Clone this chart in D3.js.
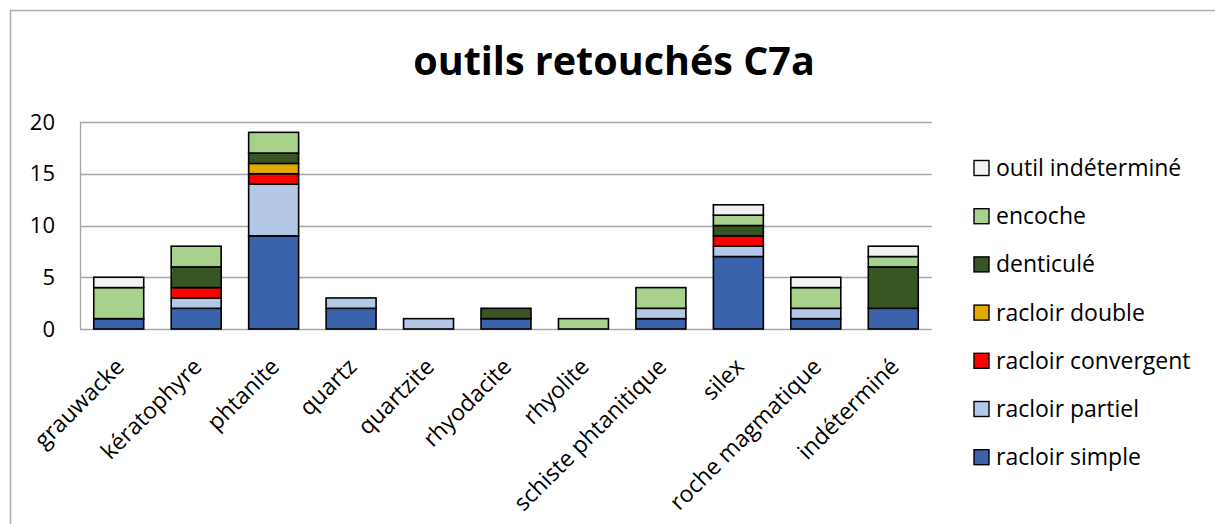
<!DOCTYPE html>
<html>
<head>
<meta charset="utf-8">
<script src="https://cdn.jsdelivr.net/npm/d3@7"></script>
<style>
  html, body { margin: 0; padding: 0; background: #fff; }
  svg { display: block; font-family: "Open Sans", "Noto Sans", sans-serif; }
</style>
</head>
<body>
<svg id="chart" width="1215" height="524"></svg>
<script>
// Rock types (x axis)
const categories = ["grauwacke", "kératophyre", "phtanite", "quartz", "quartzite", "rhyodacite",
  "rhyolite", "schiste phtanitique", "silex", "roche magmatique", "indéterminé"];

// Tool types, stacked bottom to top
const seriesNames = ["racloir simple", "racloir partiel", "racloir convergent", "racloir double",
  "denticulé", "encoche", "outil indéterminé"];

// Counts per rock type for each tool type
const racloirSimple     = [1, 2, 9, 2, 0, 1, 0, 1, 7, 1, 2];
const racloirPartiel    = [0, 1, 5, 1, 1, 0, 0, 1, 1, 1, 0];
const racloirConvergent = [0, 1, 1, 0, 0, 0, 0, 0, 1, 0, 0];
const racloirDouble     = [0, 0, 1, 0, 0, 0, 0, 0, 0, 0, 0];
const denticule         = [0, 2, 1, 0, 0, 1, 0, 0, 1, 0, 4];
const encoche           = [3, 2, 2, 0, 0, 0, 1, 2, 1, 2, 1];
const outilIndetermine  = [1, 0, 0, 0, 0, 0, 0, 0, 1, 1, 1];

const yTicks = [0, 5, 10, 15, 20];

const seriesValues = [racloirSimple, racloirPartiel, racloirConvergent, racloirDouble,
  denticule, encoche, outilIndetermine];
const colors = ["#3A63AC", "#B4C7E7", "#FF0000", "#E2AA00", "#375623", "#A9D18E", "#F2F2F2"];

const rows = categories.map((c, i) => {
  const r = { cat: c };
  seriesNames.forEach((s, j) => { r[s] = seriesValues[j][i]; });
  return r;
});

const svg = d3.select("#chart");

// Outer chart frame
svg.append("rect")
  .attr("x", 10.5).attr("y", 10.5)
  .attr("width", 1215).attr("height", 524)
  .attr("fill", "none").attr("stroke", "#ABABAB").attr("stroke-width", 1.5);

const plot = { left: 80, right: 932, top: 122, bottom: 329 };

const x = d3.scaleBand().domain(categories)
  .range([plot.left, plot.right]).paddingInner(0.355).paddingOuter(0.1775);
const y = d3.scaleLinear().domain([0, 20]).range([plot.bottom, plot.top]);

// Title
svg.append("text")
  .attr("x", 614).attr("y", 75)
  .attr("text-anchor", "middle")
  .attr("font-size", 39.5).attr("font-weight", "bold").attr("fill", "#000")
  .text("outils retouchés C7a");

// Gridlines
svg.append("g").selectAll("line").data(yTicks).join("line")
  .attr("x1", plot.left).attr("x2", plot.right)
  .attr("y1", d => Math.round(y(d)) + 0.5).attr("y2", d => Math.round(y(d)) + 0.5)
  .attr("stroke", "#A6A6A6").attr("stroke-width", 1.3);

// Y axis line
svg.append("line")
  .attr("x1", plot.left + 0.5).attr("x2", plot.left + 0.5)
  .attr("y1", plot.top).attr("y2", plot.bottom)
  .attr("stroke", "#A6A6A6").attr("stroke-width", 1.3);

// Y tick labels
const yAxis = d3.axisLeft(y).tickValues(yTicks).tickSize(0).tickPadding(25);
const yg = svg.append("g").attr("transform", `translate(${plot.left},0)`).call(yAxis);
yg.select(".domain").remove();
yg.selectAll("text").attr("font-size", 22).attr("fill", "#000")
  .attr("font-family", "'Open Sans', sans-serif");

// Stacked bars
const stack = d3.stack().keys(seriesNames)(rows);
svg.append("g").selectAll("g").data(stack).join("g")
  .attr("fill", (d, i) => colors[i])
  .selectAll("rect").data(d => d.filter(p => p[1] - p[0] > 0)).join("rect")
  .attr("x", d => x(d.data.cat))
  .attr("width", x.bandwidth())
  .attr("y", d => y(d[1]))
  .attr("height", d => y(d[0]) - y(d[1]))
  .attr("stroke", "#000").attr("stroke-width", 1.6);

// Category labels
const xAxis = d3.axisBottom(x).tickSize(0).tickPadding(0);
const xg = svg.append("g").attr("transform", `translate(0,${plot.bottom})`).call(xAxis);
xg.select(".domain").remove();
xg.selectAll("text")
  .attr("font-size", 23).attr("fill", "#000")
  .attr("font-family", "'Open Sans', sans-serif")
  .attr("text-anchor", "end")
  .attr("dy", 0)
  .attr("transform", "translate(7,39) rotate(-45)");

// Legend (top entry is the last series)
const legend = svg.append("g");
const legendItems = seriesNames.map((s, i) => ({ name: s, color: colors[i] })).reverse();
const lg = legend.selectAll("g").data(legendItems).join("g")
  .attr("transform", (d, i) => `translate(974,${168 + i * 48.2})`);
lg.append("rect")
  .attr("x", 0).attr("y", -7.5).attr("width", 15).attr("height", 15)
  .attr("fill", d => d.color).attr("stroke", "#000").attr("stroke-width", 1.4);
lg.append("text")
  .attr("x", 22).attr("y", 0).attr("dy", "0.35em")
  .attr("font-size", 23).attr("fill", "#000")
  .text(d => d.name);
</script>
</body>
</html>
